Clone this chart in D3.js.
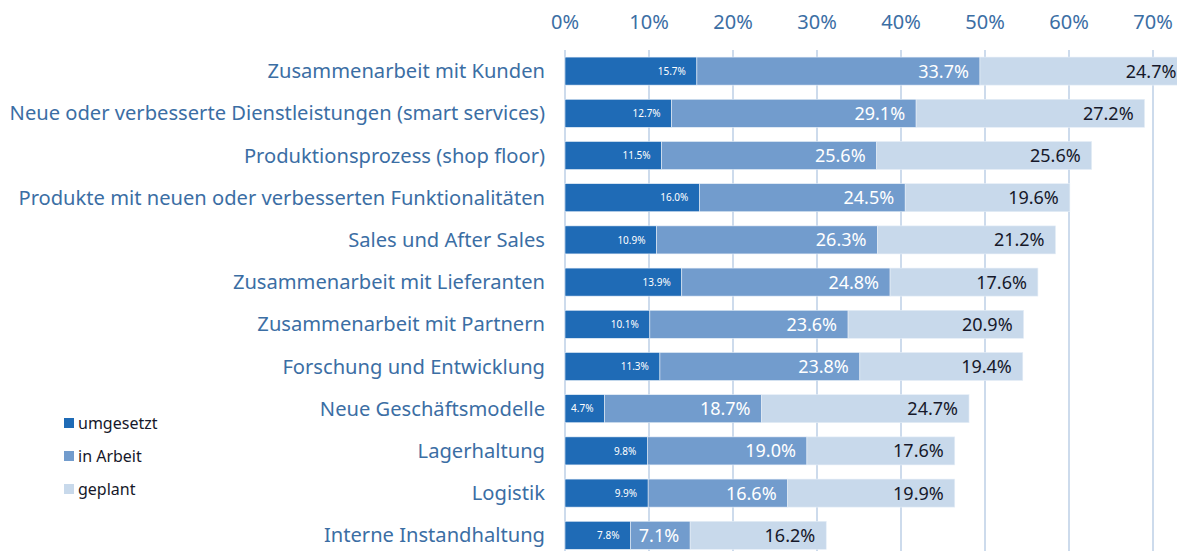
<!DOCTYPE html>
<html>
<head>
<meta charset="utf-8">
<script src="https://cdn.jsdelivr.net/npm/d3@7"></script>
<style>
  body { margin: 0; background: #fff; }
  svg { display: block; font-family: "Noto Sans", sans-serif; }
</style>
</head>
<body>
<svg id="chart" width="1177" height="551"></svg>
<script>
"use strict";

var categories = [
    "Zusammenarbeit mit Kunden",
    "Neue oder verbesserte Dienstleistungen (smart services)",
    "Produktionsprozess (shop floor)",
    "Produkte mit neuen oder verbesserten Funktionalitäten",
    "Sales und After Sales",
    "Zusammenarbeit mit Lieferanten",
    "Zusammenarbeit mit Partnern",
    "Forschung und Entwicklung",
    "Neue Geschäftsmodelle",
    "Lagerhaltung",
    "Logistik",
    "Interne Instandhaltung"
];
var umgesetzt = [15.7, 12.7, 11.5, 16.0, 10.9, 13.9, 10.1, 11.3, 4.7, 9.8, 9.9, 7.8];
var inArbeit = [33.7, 29.1, 25.6, 24.5, 26.3, 24.8, 23.6, 23.8, 18.7, 19.0, 16.6, 7.1];
var geplant = [24.7, 27.2, 25.6, 19.6, 21.2, 17.6, 20.9, 19.4, 24.7, 17.6, 19.9, 16.2];
var seriesNames = ["umgesetzt", "in Arbeit", "geplant"];
var xTicks = [0, 10, 20, 30, 40, 50, 60, 70];

var COLORS = ["#1f6bb6", "#729ccd", "#c8d9eb"];
var LABEL_COLORS = ["#ffffff", "#ffffff", "#16182a"];
var LABEL_SIZES = [10, 18, 18];
var TEXT_BLUE = "#3b6ea4";

var svg = d3.select("#chart");

var x = d3.scaleLinear().domain([0, 70]).range([565, 1153]);
var y = d3.scaleBand()
    .domain(categories)
    .range([50, 556.4])
    .paddingInner(0.336)
    .paddingOuter(0.168);

// grid
svg.append("g").attr("class", "grid")
    .selectAll("line")
    .data(xTicks)
    .enter().append("line")
    .attr("x1", function(d) { return x(d); })
    .attr("x2", function(d) { return x(d); })
    .attr("y1", 50)
    .attr("y2", 551)
    .attr("stroke", "#cddbec")
    .attr("stroke-width", 2);

// top axis labels
svg.append("g").attr("class", "x-axis")
    .selectAll("text")
    .data(xTicks)
    .enter().append("text")
    .attr("x", function(d) { return x(d); })
    .attr("y", 29)
    .attr("text-anchor", "middle")
    .attr("fill", TEXT_BLUE)
    .attr("font-size", 20)
    .text(function(d) { return d + "%"; });

// stacked segments
var rows = categories.map(function(c, i) {
    var vals = [umgesetzt[i], inArbeit[i], geplant[i]];
    var start = 0;
    return vals.map(function(v, k) {
        var seg = { cat: c, k: k, v: v, x0: start, x1: start + v };
        start += v;
        return seg;
    });
});
var segments = [].concat.apply([], rows);

var bars = svg.append("g").attr("class", "bars");
bars.selectAll("rect")
    .data(segments)
    .enter().append("rect")
    .attr("x", function(d) { return x(d.x0); })
    .attr("width", function(d) { return x(d.x1) - x(d.x0); })
    .attr("y", function(d) { return y(d.cat); })
    .attr("height", y.bandwidth())
    .attr("fill", function(d) { return COLORS[d.k]; })
    .attr("stroke", "#e6eef7")
    .attr("stroke-width", 0.6);

bars.selectAll("text")
    .data(segments)
    .enter().append("text")
    .attr("x", function(d) { return x(d.x1) - 11; })
    .attr("y", function(d) { return y(d.cat) + y.bandwidth() / 2; })
    .attr("dy", "0.36em")
    .attr("text-anchor", "end")
    .attr("fill", function(d) { return LABEL_COLORS[d.k]; })
    .attr("font-size", function(d) { return LABEL_SIZES[d.k]; })
    .text(function(d) { return d.v.toFixed(1) + "%"; });

// category labels
svg.append("g").attr("class", "y-axis")
    .selectAll("text")
    .data(categories)
    .enter().append("text")
    .attr("x", 545)
    .attr("y", function(d) { return y(d) + y.bandwidth() / 2; })
    .attr("dy", "0.35em")
    .attr("text-anchor", "end")
    .attr("fill", TEXT_BLUE)
    .attr("font-size", 20.15)
    .text(function(d) { return d; });

// legend
var legend = svg.append("g").attr("class", "legend")
    .selectAll("g")
    .data(seriesNames)
    .enter().append("g")
    .attr("transform", function(d, i) { return "translate(64," + (423 + i * 33) + ")"; });
legend.append("rect")
    .attr("x", 0)
    .attr("y", -5)
    .attr("width", 10)
    .attr("height", 10)
    .attr("fill", function(d, i) { return COLORS[i]; });
legend.append("text")
    .attr("x", 14)
    .attr("dy", "0.35em")
    .attr("fill", "#16182a")
    .attr("font-size", 16)
    .text(function(d) { return d; });
</script>
</body>
</html>
